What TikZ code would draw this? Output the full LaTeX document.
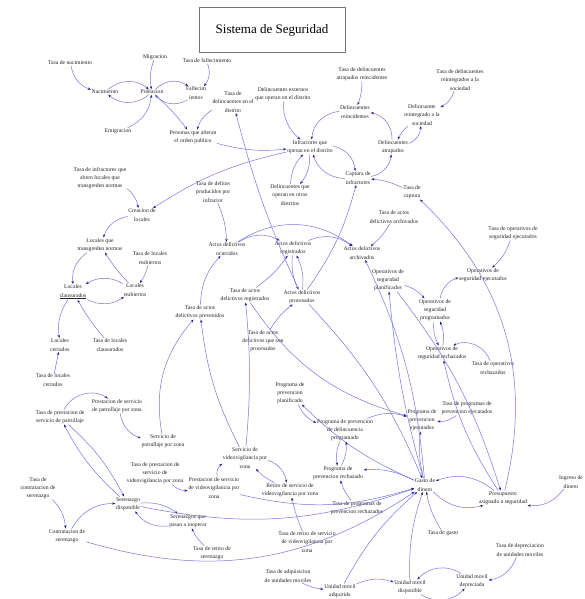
\documentclass[tikz,border=0pt]{standalone}
\usepackage{fontspec}
\setmainfont{Liberation Serif}
\usetikzlibrary{arrows.meta}
\definecolor{lnk}{RGB}{118,118,230}
\definecolor{tipc}{RGB}{30,30,140}
\tikzset{
 lab/.style={align=center, font=\fontsize{5.7}{8.2}\selectfont, inner sep=0.6pt, text=black!85},
 arr/.style={draw=lnk, line width=0.5pt, -{Stealth[length=3.2pt,width=2.4pt,color=tipc]}},
}
\begin{document}
\begin{tikzpicture}[x=1pt,y=1pt]
\useasboundingbox (0,0) rectangle (585,-599);
\fill[white] (0,0) rectangle (585,-599);
% title
\node[draw=black!55, line width=0.6pt, minimum width=146pt, minimum height=45pt, font=\fontsize{13}{15}\selectfont] (title) at (272,-30) {Sistema de Seguridad};
% population
\node[lab] (tnac) at (70,-63) {Tasa de nacimiento};
\node[lab] (migr) at (155,-57) {Migracion};
\node[lab] (nac) at (105,-92) {Nacimiento};
\node[lab] (pob) at (152,-92) {Poblacion};
\node[lab] (fall) at (196,-93) {Fallecim\\ientos};
\node[lab] (emig) at (118,-131) {Emigracion};
\node[lab] (tfall) at (207,-61) {Tasa de fallecimiento};
\node[lab] (pers) at (193,-137) {Personas que alteran\\el orden publico};
\node[lab] (tdel) at (233,-102) {Tasa de\\delincuentes en el\\distrito};
\node[lab] (dext) at (283,-94) {Delincuentes externos\\que operan en el distrito};
\node[lab] (tdar) at (362,-74) {Tasa de delincuentes\\atrapados reincidentes};
\node[lab] (drein) at (355,-112) {Delincuentes\\reincidentes};
\node[lab] (infr) at (310,-147) {Infractores que\\operan en el distrito};
\node[lab] (datr) at (393,-147) {Delincuentes\\atrapados};
\node[lab] (dreint) at (422,-115) {Delincuente\\reintegrado a la\\sociedad};
\node[lab] (tdreint) at (460,-80) {Tasa de delincuentes\\reintegrados a la\\sociedad};
\node[lab] (capt) at (358,-178) {Captura de\\infractores};
\node[lab] (tcapt) at (412,-192) {Tasa de\\captura};
\node[lab] (dotros) at (290,-195) {Delincuentes que\\operan en otros\\distritos};
% locales
\node[lab] (tinfloc) at (100,-178) {Tasa de infractores que\\abren locales que\\transgreden normas};
\node[lab] (creac) at (142,-215) {Creacion de\\locales};
\node[lab] (locq) at (100,-245) {Locales que\\transgreden normas};
\node[lab] (tlreab) at (150,-258) {Tasa de locales\\reabiertos};
\node[lab] (lclaus) at (73,-292) {Locales\\\underline{clausurados}};
\node[lab] (lreab) at (135,-290) {Locales\\reabiertos};
\node[lab] (lcerr) at (60,-345) {Locales\\cerrados};
\node[lab] (tlclaus) at (110,-345) {Tasa de locales\\clausurados};
\node[lab] (tlcerr) at (53,-380) {Tasa de locales\\cerrados};
% actos
\node[lab] (tdelit) at (213,-192) {Tasa de delitos\\producidos por\\infractor};
\node[lab] (aocur) at (227,-249) {Actos delictivos\\ocurridos};
\node[lab] (areg) at (293,-248) {Actos delictivos\\registrados};
\node[lab] (aarch) at (362,-253) {Actos delictivos\\archivados};
\node[lab] (tarch) at (394,-217) {Tasa de actos\\delictivos archivados};
\node[lab] (aproc) at (302,-297) {Actos delictivos\\procesados};
\node[lab] (tareg) at (245,-295) {Tasa de actos\\delictivos registrados};
\node[lab] (tprev) at (200,-312) {Tasa de actos\\delictivos prevenidos};
\node[lab] (taproc) at (263,-341) {Tasa de actos\\delictivos que son\\procesados};
% operativos
\node[lab] (topej) at (513,-233) {Tasa de operativos de\\seguridad ejecutados};
\node[lab] (opej) at (483,-275) {Operativos de\\seguridad ejecutados};
\node[lab] (oppl) at (388,-280) {Operativos de\\seguridad\\planificados};
\node[lab] (opprog) at (435,-310) {Operativos de\\seguridad\\programados};
\node[lab] (oprech) at (442,-353) {Operativos de\\seguridad rechazados};
\node[lab] (toprech) at (493,-368) {Tasa de operativos\\rechazados};
% programas
\node[lab] (tprogej) at (467,-408) {Tasa de programas de\\prevencion ejecutados};
\node[lab] (progej) at (422,-420) {Programa de\\prevencion\\ejecutados};
\node[lab] (progpl) at (290,-393) {Programa de\\prevencion\\planificado};
\node[lab] (progprog) at (345,-430) {Programa de prevencion\\de delincuencia\\programado};
\node[lab] (progrech) at (338,-473) {Programa de\\prevencion rechazado};
\node[lab] (tprogrech) at (357,-508) {Tasa de programas de\\prevencion rechazados};
% patrullaje / video
\node[lab] (prestpat) at (117,-406) {Prestacion de servicio\\de patrullaje por zona};
\node[lab] (tprestpat) at (60,-417) {Tasa de prestacion de\\servicio de patrullaje};
\node[lab] (servpat) at (163,-441) {Servicio de\\patrullaje por zona};
\node[lab] (servvid) at (245,-458) {Servicio de\\videovigilancia por\\zona};
\node[lab] (tprestvid) at (155,-473) {Tasa de prestacion de\\servicio de\\videovigilancia por zona};
\node[lab] (prestvid) at (214,-488) {Prestacion de servicio\\de videovigilancia por\\zona};
\node[lab] (retiro) at (290,-490) {Retiro de servicio de\\videovigilancia por zona};
\node[lab] (tretvid) at (307,-542) {Tasa de retiro de servicio\\de videovigilancia por\\zona};
% serenazgo
\node[lab] (tcontr) at (38,-488) {Tasa de\\contratacion de\\serenazgo};
\node[lab] (seren) at (128,-504) {Serenazgo\\disponible};
\node[lab] (contr) at (67,-536) {Contratacion de\\serenazgo};
\node[lab] (serinop) at (188,-521) {Serenazgos que\\pasan a inoperar};
\node[lab] (tretser) at (212,-553) {Tasa de retiro de\\serenazgo};
% dinero / unidades
\node[lab] (gasto) at (425,-485) {Gasto de\\dinero};
\node[lab] (presup) at (503,-498) {Presupuesto\\asignado a seguridad};
\node[lab] (ingreso) at (571,-482) {Ingreso de\\dinero};
\node[lab] (tgasto) at (443,-533) {Tasa de gasto};
\node[lab] (tdep) at (520,-550) {Tasa de depreciacion\\de unidades moviles};
\node[lab] (umdep) at (472,-581) {Unidad movil\\depreciada};
\node[lab] (umdisp) at (410,-587) {Unidad movil\\disponible};
\node[lab] (tadq) at (288,-576) {Tasa de adquisicion\\de unidades moviles};
\node[lab] (umadq) at (340,-591) {Unidad movil\\adquirida};

% ---- connectors: population
\draw[arr] (tnac) to[bend right=30] (nac);
\draw[arr] (nac) to[bend left=40] (pob);
\draw[arr] (pob) to[bend left=40] (nac);
\draw[arr] (migr) to[bend right=15] (pob);
\draw[arr] (emig) to[bend right=30] (pob);
\draw[arr] (pob) to[bend left=40] (fall);
\draw[arr] (fall) to[bend left=40] (pob);
\draw[arr] (tfall) to[bend left=30] (fall);
\draw[arr] (pob) to[bend left=5] (pers);
\draw[arr] (tdel) to[bend right=20] (pers);
\draw[arr] (pers) to[bend right=10] (infr);
\draw[arr] (dext) to[bend right=25] (infr);
\draw[arr] (drein) to[bend right=40] (infr);
\draw[arr] (tdar) to[bend left=10] (drein);
\draw[arr] (datr) to[bend right=40] (drein);
\draw[arr] (dreint) to[bend right=10] (datr);
\draw[arr] (datr) to[bend right=35] (dreint);
\draw[arr] (tdreint) to[bend left=20] (dreint);
\draw[arr] (infr) to[bend left=35] (capt);
\draw[arr] (capt) to[bend left=35] (infr);
\draw[arr] (capt) to[bend right=35] (datr);
\draw[arr] (tcapt) to[bend right=10] (capt);
\draw[arr] (infr) to[bend left=20] (dotros);
\draw[arr] (dotros) to[bend left=20] (infr);
% locales
\draw[arr] (tinfloc) to[bend left=20] (creac);
\draw[arr] (infr) to[bend right=10] (creac);
\draw[arr] (creac) to[bend right=30] (locq);
\draw[arr] (locq) to[bend right=30] (lclaus);
\draw[arr] (lreab) to[bend left=5] (locq);
\draw[arr] (tlreab) to[bend left=10] (lreab);
\draw[arr] (lreab) to[bend right=30] (lclaus);
\draw[arr] (lclaus) to[bend right=30] (lreab);
\draw[arr] (tlclaus) to[bend left=5] (lclaus);
\draw[arr] (lclaus) to[bend right=20] (lcerr);
\draw[arr] (tlcerr) to (lcerr);
% patrullaje
\draw[arr] (tprestpat) to[bend left=50] (prestpat);
\draw[arr] (prestpat) to[bend right=30] (servpat);
\draw[arr] (servpat) to[bend left=25] (tprev);
\draw[arr] (servvid) to[bend left=10] (tprev);
\draw[arr] (tprev) to[bend left=20] (aocur);
\draw[arr] (seren) to[bend left=10] (tprestpat);
\draw[arr] (tprestpat) to[bend left=10] (seren);
% actos
\draw[arr] (tdelit) to[bend left=10] (aocur);
\draw[arr] (aocur) to[bend left=30] (areg);
\draw[arr] (aocur) to[bend left=35] (aarch);
\draw[arr] (areg) to[bend left=30] (aarch);
\draw[arr] (areg) to[bend right=15] (aproc);
\draw[arr] (aproc) to[bend right=15] (areg);
\draw[arr] (tareg) to[bend right=10] (areg);
\draw[arr] (taproc) to[bend left=10] (aproc);
\draw[arr] (aproc) to[bend right=10] (capt);
\draw[arr] (tarch) to[bend left=10] (aarch);
\draw[arr] (aproc) to[bend left=5] (tdel);
\draw[arr] (servvid) to[bend right=5] (tareg);
\draw[arr] (tareg) to[bend right=20] (progej);
\draw[arr] (aproc) to[bend left=10] (gasto);
% operativos
\draw[arr] (topej) to[bend left=15] (opej);
\draw[arr] (opprog) to[bend left=30] (opej);
\draw[arr] (oppl) to[bend left=15] (opprog);
\draw[arr] (opprog) to[bend right=15] (oprech);
\draw[arr] (oprech) to[bend right=15] (opprog);
\draw[arr] (toprech) to[bend right=50] (oprech);
\draw[arr] (presup) to[bend left=10] (oprech);
\draw[arr] (presup) to[bend right=30] (tcapt);
\draw[arr] (gasto) to[bend left=5] (oppl);
\draw[arr] (oppl) to[bend left=10] (presup);
% programas
\draw[arr] (progpl) to[bend right=20] (progprog);
\draw[arr] (progprog) to[bend left=20] (progej);
\draw[arr] (gasto) to[bend left=10] (progpl);
\draw[arr] (progprog) to[bend right=15] (progrech);
\draw[arr] (progrech) to[bend right=15] (progprog);
\draw[arr] (tprogrech) to[bend left=10] (progrech);
\draw[arr] (tprogej) to[bend left=20] (progej);
\draw[arr] (gasto) to[bend left=10] (progej);
\draw[arr] (gasto) to[bend right=15] (progrech);
% serenazgo
\draw[arr] (tcontr) to[bend left=20] (contr);
\draw[arr] (contr) to[bend left=30] (seren);
\draw[arr] (seren) to[bend left=20] (serinop);
\draw[arr] (serinop) to[bend left=30] (seren);
\draw[arr] (tretser) to[bend left=10] (serinop);
\draw[arr] (tprestvid) to[bend right=20] (prestvid);
\draw[arr] (prestvid) to[bend left=30] (servvid);
\draw[arr] (servvid) to[bend left=30] (retiro);
\draw[arr] (retiro) to[bend left=10] (servvid);
\draw[arr] (tretvid) to[bend left=5] (retiro);
\draw[arr] (prestvid) to[bend right=15] (gasto);
\draw[arr] (contr) to[bend right=25] (gasto);
\draw[arr] (seren) to[bend right=15] (gasto);
% dinero
\draw[arr] (tgasto) to[bend left=10] (gasto);
\draw[arr] (presup) to[bend right=30] (gasto);
\draw[arr] (gasto) to[bend right=30] (presup);
\draw[arr] (ingreso) to[bend left=30] (presup);
\draw[arr] (umadq) to[bend left=20] (umdisp);
\draw[arr] (umdep) to[bend right=40] (umdisp);
\draw[arr] (umdisp) to[bend right=40] (umdep);
\draw[arr] (tdep) to[bend left=30] (umdep);
\draw[arr] (tadq) to[bend right=10] (umadq);
\draw[arr] (umdisp) to[bend left=10] (gasto);
\draw[arr] (umadq) to[bend left=10] (gasto);
\draw[arr] (gasto) to[bend right=10] (aarch);
\end{tikzpicture}
\end{document}
